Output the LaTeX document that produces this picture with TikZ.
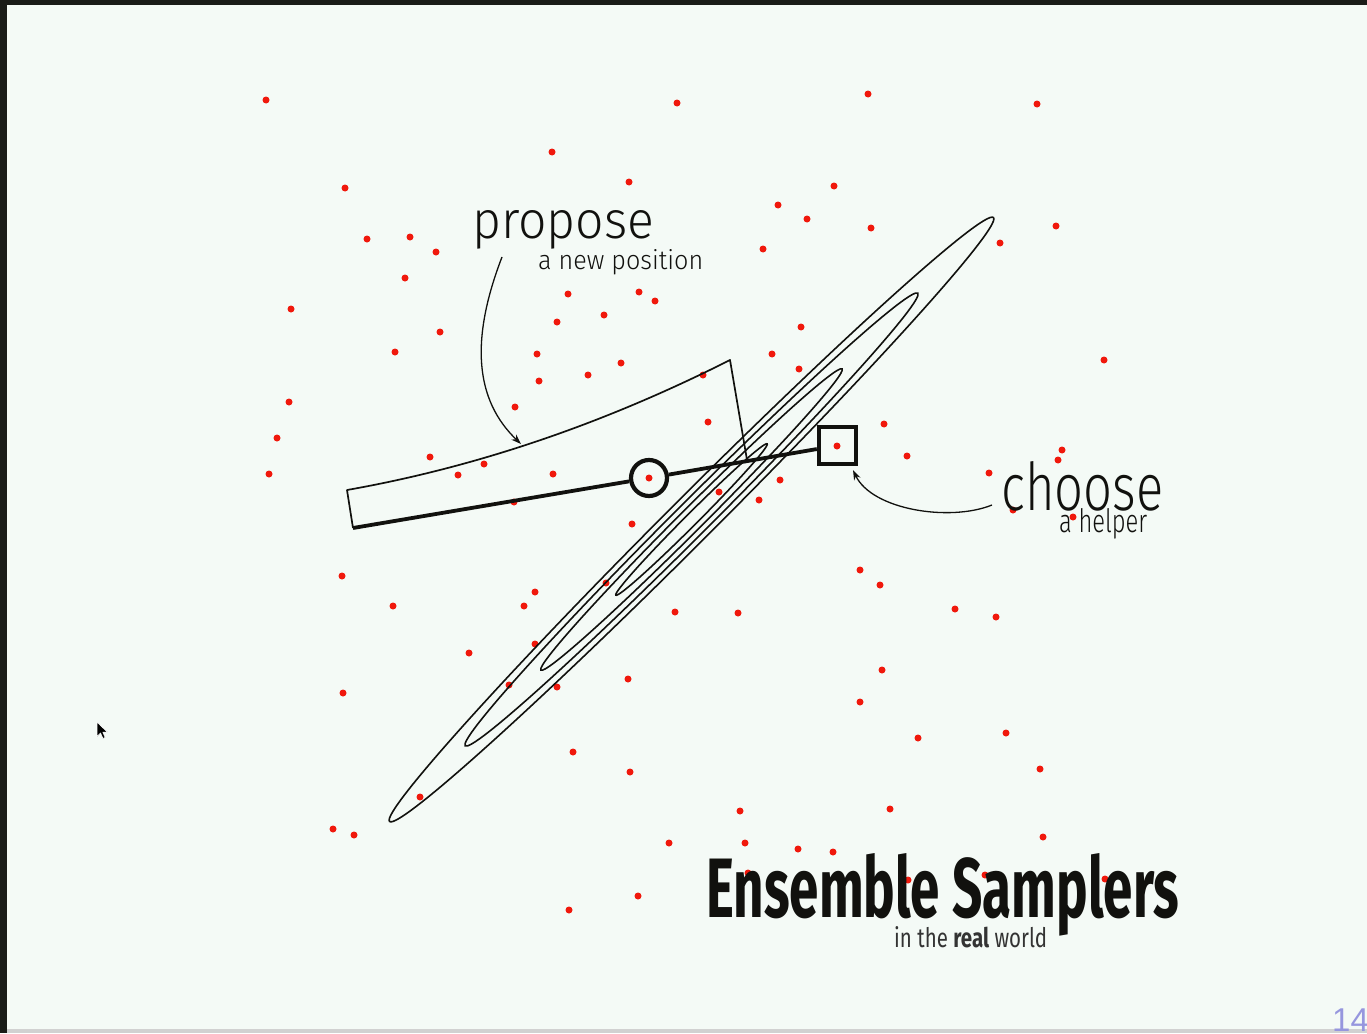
\documentclass[tikz,border=0pt]{standalone}
\usepackage{fontspec}
\usepackage{graphicx}
\usetikzlibrary{arrows.meta}
\newfontfamily\thinfont{Fira Sans Light}
\newfontfamily\titlefont{Fira Sans Bold}
\newfontfamily\subfont{Fira Sans}
\newfontfamily\subboldfont{Fira Sans Bold}
\newfontfamily\pagefont{Liberation Sans}
\definecolor{bg}{RGB}{244,250,246}
\definecolor{frame}{RGB}{26,28,24}
\definecolor{dotred}{RGB}{240,24,12}
\definecolor{ink}{RGB}{17,17,14}
\definecolor{pagenum}{RGB}{150,150,222}
\begin{document}
\begin{tikzpicture}[x=1pt,y=-1pt,
  dot/.style={circle,fill=dotred,inner sep=0pt,minimum size=7pt},
  contour/.style={draw=ink,line width=1.6pt},
  region/.style={draw=ink,line width=1.7pt,line join=round},
  chain/.style={draw=ink,line width=3.8pt},
  walker/.style={circle,draw=ink,line width=4.2pt,minimum size=36pt,inner sep=0pt},
  helper/.style={rectangle,draw=ink,line width=4.4pt,minimum size=37pt,inner sep=0pt},
  callout/.style={draw=ink,line width=1.3pt,-{Stealth[length=10pt,width=7pt]}},
  txt/.style={anchor=base west,inner sep=0pt,text=ink}]
\useasboundingbox (0,0) rectangle (1367,1033);
% slide background and window edges
\fill[bg] (0,0) rectangle (1367,1033);
\fill[frame] (0,0) rectangle (1367,5);
\fill[frame] (0,0) rectangle (7,1033);
\fill[black!18] (7,1029) rectangle (1367,1033);

% ensemble of walkers
\foreach \x/\y [count=\i] in {266/100,677/103,868/94,1037/104,552/152,345/188,629/182,834/186,
  778/205,807/219,871/228,1056/226,367/239,410/237,436/252,763/249,1000/243,405/278,
  568/294,639/292,655/301,291/309,604/315,557/322,440/332,801/327,395/352,537/354,
  772/354,1104/360,621/363,588/375,539/381,799/369,703/375,289/402,515/407,708/422,
  277/438,884/424,837/446,430/457,484/464,458/475,553/474,907/456,1062/450,1058/460,
  269/474,649/478,514/502,719/492,780/480,759/500,989/473,1013/510,1073/517,632/524,
  342/576,860/570,880/585,393/606,535/592,524/606,606/583,675/612,738/613,955/609,
  996/617,535/644,469/653,882/670,343/693,509/685,557/687,628/679,860/702,918/738,
  1006/733,573/752,630/772,1040/769,420/797,740/811,890/809,333/829,354/835,669/843,
  745/843,798/849,833/852,1043/837,569/910,638/896,748/873,908/880,985/875,1105/879}
  \node[dot] (w\i) at (\x,\y) {};

% contours of the target density
\foreach \a/\b in {427/22.5,320/17,213/11.5,107/6}
  \draw[contour,rotate around={45:(691.5,519.5)}] (691.5,519.5) ellipse [x radius=\a pt, y radius=\b pt];

% proposal region
\coordinate (pA) at (347,490);
\coordinate (pB) at (353,528);
\coordinate (pC) at (730,360);
\coordinate (pD) at (747,460);
\draw[region] (pB) -- (pA) .. controls (475.7,467.3) and (603.3,424) .. (pC) -- (pD);

% current walker and its helper
\node[walker] (cur) at (649,478) {};
\node[helper] (help) at (837.5,445.5) {};
\draw[chain] (pB) -- (cur);
\draw[chain] (cur) -- (help);

% labels
\node[txt] (lprop) at (472,238) {\resizebox{182pt}{28pt}{\thinfont propose}};
\node[txt] (lprop2) at (538,269) {\resizebox{165pt}{20pt}{\thinfont a new position}};
\node[txt] (lchoose) at (1001,510) {\resizebox{162pt}{49pt}{\thinfont choose}};
\node[txt] (lchoose2) at (1059,532) {\resizebox{88pt}{24pt}{\thinfont a helper}};

\coordinate (propTail) at (502,257);
\coordinate (propHead) at (521,444);
\draw[callout] (propTail) .. controls (470,340) and (475,400) .. (propHead);
\coordinate (chTail) at (992,505);
\coordinate (chHead) at (853,470);
\draw[callout] (chTail) .. controls (950,522) and (872,510) .. (chHead);

% title
\node[txt] (title) at (706,917) {\resizebox{473pt}{64pt}{\titlefont Ensemble Samplers}};
\node[txt,text=black!80] (subtitle) at (894,947) {\resizebox{153pt}{21pt}{\subfont in the \subboldfont real\subfont{} world}};

% page number
\node[anchor=base west,inner sep=0pt,text=pagenum,font=\pagefont\fontsize{33}{33}\selectfont] (page) at (1332,1031) {14};

% mouse pointer
\filldraw[fill=black,draw=white,line width=0.6pt,line join=round]
  (97,722) -- (97,736.5) -- (100.5,733) -- (103,738.5) -- (105.2,737.5) -- (102.8,732.2) -- (107.5,732.2) -- cycle;
\end{tikzpicture}
\end{document}
